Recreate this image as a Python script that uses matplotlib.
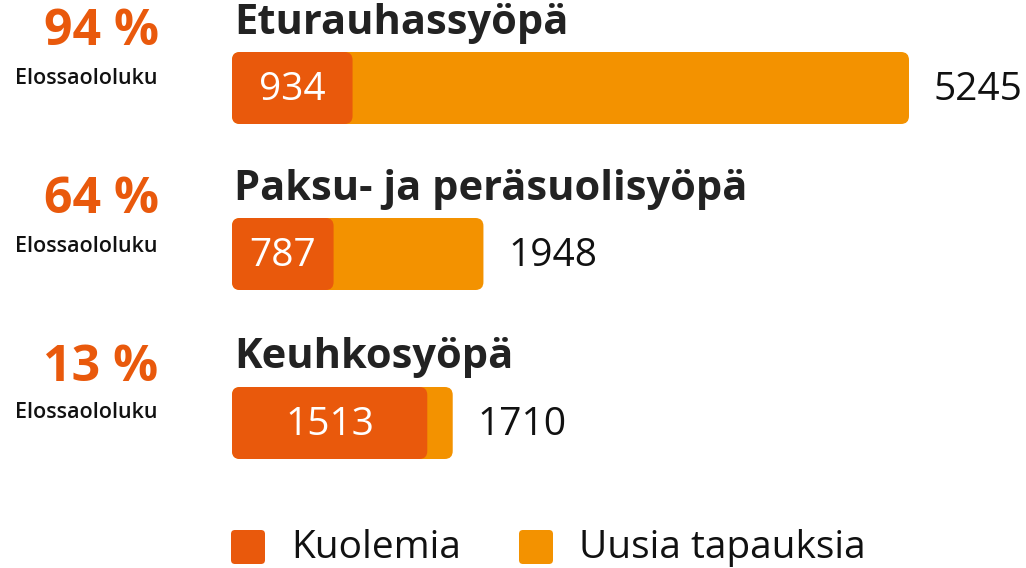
import matplotlib.pyplot as plt
from matplotlib.patches import FancyBboxPatch

plt.rcParams['font.family'] = ['Open Sans', 'DejaVu Sans']

cancers = ['Eturauhassyöpä', 'Paksu- ja peräsuolisyöpä', 'Keuhkosyöpä']
survival = ['94 %', '64 %', '13 %']
deaths = [934, 787, 1513]
new_cases = [5245, 1948, 1710]
legend_labels = ['Kuolemia', 'Uusia tapauksia']

dark = '#E9590C'
light = '#F39200'

W, H = 1026, 568
fig = plt.figure(figsize=(W / 100, H / 100), dpi=100)

# layout axis in pixel units (text, legend)
lay = fig.add_axes([0, 0, 1, 1])
lay.set_xlim(0, W)
lay.set_ylim(H, 0)
lay.axis('off')

# bar axis: x in data units, y in pixels
x0 = 232
px_per_unit = 677 / 5245
ax = fig.add_axes([x0 / W, 0, 1 - x0 / W, 1])
ax.set_xlim(0, (W - x0) / px_per_unit)
ax.set_ylim(H, 0)
ax.axis('off')

bar_top = [52, 218, 387]
bar_h = 72
title_y = [24, 190, 358]
pct_y = [32, 200, 368]
sub_y = [78, 246, 413]

r = 8  # corner radius in px
aspect = px_per_unit

for i in range(3):
    y = bar_top[i]
    for val, col in [(new_cases[i], light), (deaths[i], dark)]:
        box = FancyBboxPatch((0, y), val, bar_h,
                             boxstyle='round,pad=0,rounding_size=%f' % (r / px_per_unit),
                             mutation_aspect=aspect, fc=col, ec='none')
        ax.add_patch(box)
    ax.text(deaths[i] / 2, y + bar_h / 2 + 2, str(deaths[i]), color='white',
            fontsize=28, ha='center', va='center')
    ax.text(new_cases[i] + 25 / px_per_unit, y + bar_h / 2 + 2, str(new_cases[i]),
            color='#111111', fontsize=28, ha='left', va='center')

    lay.text(234, title_y[i], cancers[i], fontsize=30, fontweight='bold',
             color='#222222', ha='left', va='center')
    lay.text(101, pct_y[i], survival[i], fontsize=36, fontweight='bold',
             color=dark, ha='center', va='center')
    lay.text(15, sub_y[i], 'Elossaololuku', fontsize=15.5, fontweight='semibold',
             color='#111111', ha='left', va='center')

# legend
leg_x = [231, 519]
for lx, col, lab in zip(leg_x, [dark, light], legend_labels):
    sq = FancyBboxPatch((lx, 530), 34, 34, boxstyle='round,pad=0,rounding_size=4',
                        fc=col, ec='none')
    lay.add_patch(sq)
    lay.text(lx + 60, 548, lab, fontsize=28, color='#111111', ha='left', va='center')

fig.savefig('out.png', dpi=100)
